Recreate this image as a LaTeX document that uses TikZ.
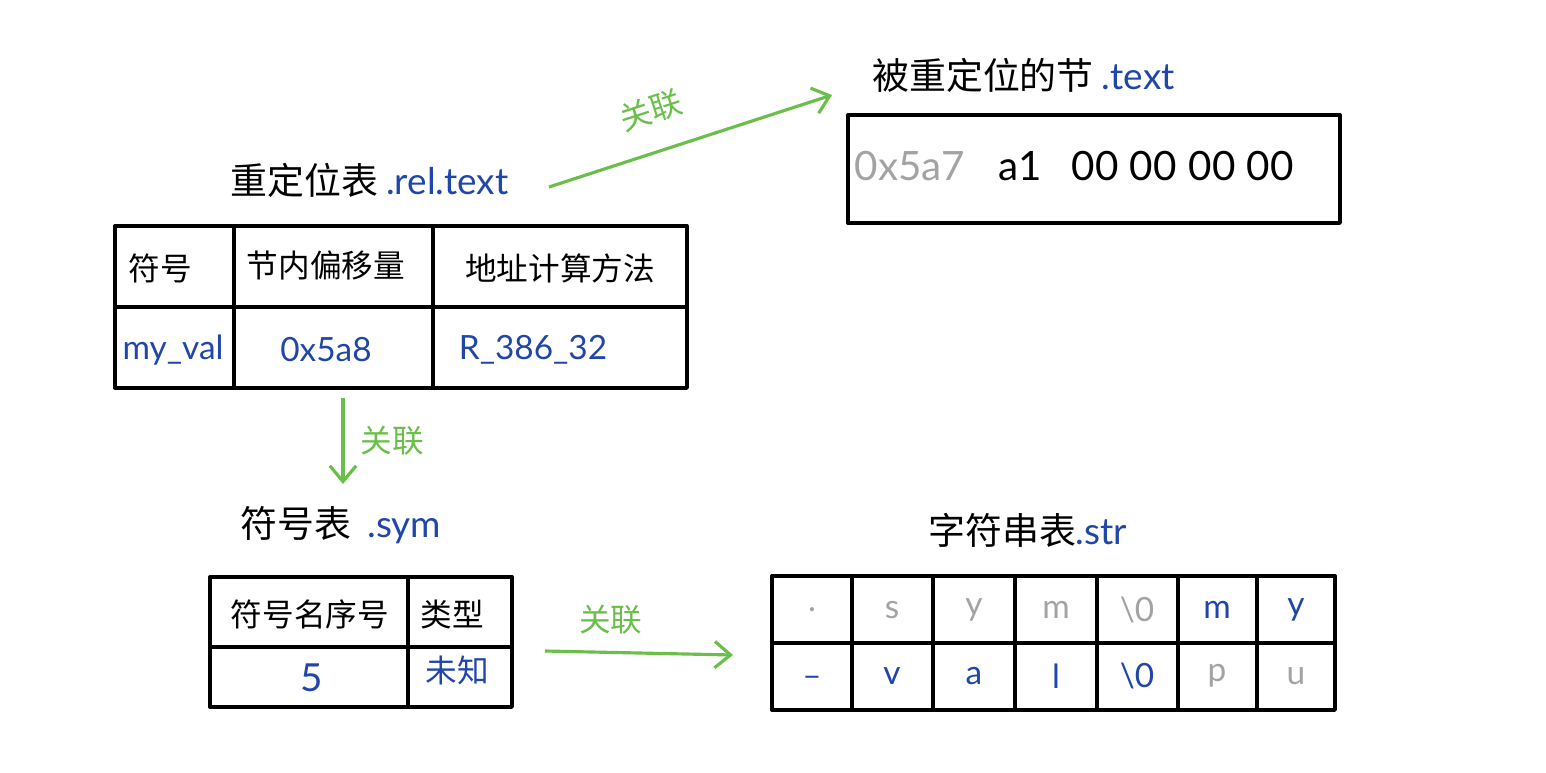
\documentclass[tikz,border=0pt]{standalone}
\usepackage{fontspec}
\usepackage{xcolor}
\usepackage{tikz}
\usetikzlibrary{arrows.meta,calc}
\setmainfont{Lato}
\newfontfamily\cjk{Noto Sans CJK SC}
\definecolor{penblue}{HTML}{1F46A8}
\definecolor{pengreen}{HTML}{6ABF4B}
\definecolor{pengray}{HTML}{A3A3A3}

\tikzset{
  tab/.style={line width=1.9pt,line join=round},
  link/.style={->,pengreen,line width=1.8pt},
  linklabel/.style={pengreen,font=\cjk\fontsize{18}{20}\selectfont},
  title/.style={anchor=west,inner sep=0pt,font=\fontsize{21}{23}\selectfont},
  cell/.style={inner sep=0pt,font=\fontsize{19}{21}\selectfont},
}

\begin{document}
\begin{tikzpicture}[x=0.02cm,y=-0.02cm,>={Straight Barb[length=9pt,width=15pt]}]
  \useasboundingbox (0,0) rectangle (1546,772);
  % Titel
  \node[title] (reltitle) at (230,180) {\cjk 重定位表\ \color{penblue}\rmfamily .rel.text};
  \node[title] (texttitle) at (872,75) {\cjk 被重定位的节\ \color{penblue}\rmfamily .text};
  \node[title] (symtitle) at (240,525) {\cjk 符号表\ \ \color{penblue}\rmfamily .sym};
  \node[title] (strtitle) at (928,530) {\cjk 字符串表\color{penblue}\rmfamily .str};
  % Reloc-Tabelle
  \draw[tab] (115,226) rectangle (687,388);
  \draw[tab] (115,307) -- (687,307);
  \draw[tab] (234,226) -- (234,388);
  \draw[tab] (433,226) -- (433,388);
  \node[cell,font=\cjk\fontsize{18}{20}\selectfont] (relh1) at (160,268) {符号};
  \node[cell,font=\cjk\fontsize{18}{20}\selectfont] (relh2) at (326,265) {节内偏移量};
  \node[cell,font=\cjk\fontsize{18}{20}\selectfont] (relh3) at (560,268) {地址计算方法};
  \node[cell,penblue] (relv1) at (173,350) {my\_val};
  \node[cell,penblue] (relv2) at (326,350) {0x5a8};
  \node[cell,penblue] (relv3) at (533,350) {R\_386\_32};
  % Abschnitt .text
  \draw[tab] (848,115) rectangle (1340,223);
  \node[cell,pengray,font=\fontsize{23}{25}\selectfont] (byte0) at (910,166) {0x5a7};
  \foreach \x/\b [count=\i] in {1020/a1,1095/00,1153/00,1212/00,1270/00}
    \node[cell,font=\fontsize{23}{25}\selectfont] (byte\i) at (\x,166) {\b};
  % Symboltabelle
  \draw[tab] (210,577) rectangle (512,707);
  \draw[tab] (210,647) -- (512,647);
  \draw[tab] (408,577) -- (408,707);
  \node[cell,font=\cjk\fontsize{18}{20}\selectfont] (symh1) at (310,614) {符号名序号};
  \node[cell,font=\cjk\fontsize{18}{20}\selectfont] (symh2) at (452,614) {类型};
  \node[cell,penblue,font=\fontsize{22}{24}\selectfont] (symv1) at (312,678) {5};
  \node[cell,penblue,font=\cjk\fontsize{18}{20}\selectfont] (symv2) at (457,670) {未知};
  % Stringtabelle
  \draw[tab] (772,576) rectangle (1335,710);
  \draw[tab] (772,643) -- (1335,643);
  \foreach \x in {852,933,1015,1097,1178,1257}
    \draw[tab] (\x,576) -- (\x,710);
  \foreach \x/\c/\t [count=\i] in {812/pengray/.,892/pengray/s,974/pengray/y,1056/pengray/m,
      1137/pengray/\textbackslash0,1217/penblue/m,1296/penblue/y}
    \node[cell,text=\c] (stra\i) at (\x,610) {\t};
  \foreach \x/\c/\t [count=\i] in {812/penblue/\_,892/penblue/v,974/penblue/a,1056/penblue/l,
      1137/penblue/\textbackslash0,1217/pengray/p,1296/pengray/u}
    \node[cell,text=\c] (strb\i) at (\x,676) {\t};
  % Verbindungen
  \coordinate (relout) at (549,187);
  \coordinate (textin) at (832,95);
  \coordinate (reldown) at (343,398);
  \coordinate (symin) at (343,484);
  \coordinate (symout) at (545,651);
  \coordinate (strin) at (733,655);
  \draw[link] (relout) -- (textin) node[linklabel,midway,sloped,above=11pt,xshift=-16pt] (lab1) {关联};
  \draw[link] (reldown) -- (symin) node[linklabel,midway,right=6pt] (lab2) {关联};
  \draw[link] (symout) -- (strin) node[linklabel,pos=0.35,above=6pt] (lab3) {关联};
\end{tikzpicture}
\end{document}
